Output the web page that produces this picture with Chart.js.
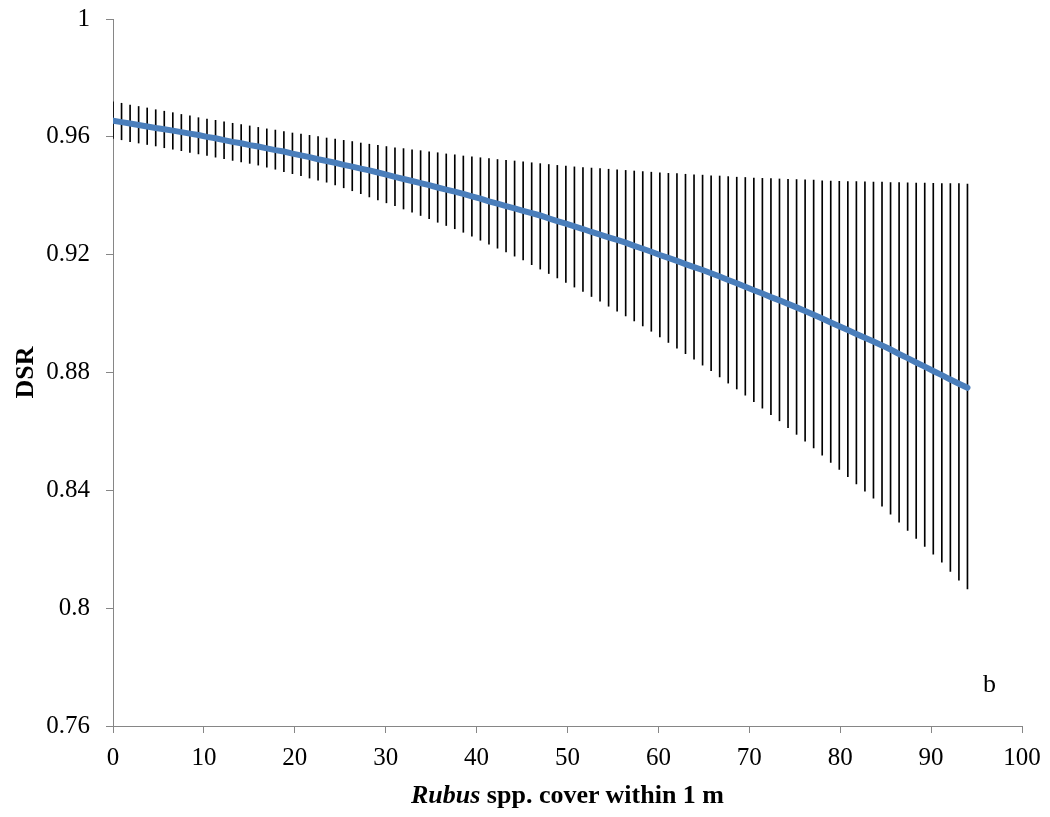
<html>
  <head>
    <style>
      body { margin: 0; background: #fff; }
      #wrap { position: relative; width: 1050px; height: 817px; }
      .lbl { position: absolute; font-family: "Liberation Serif", "Times New Roman", serif; font-size: 26px; line-height: 30px; color: #000; white-space: nowrap; }
    </style>
  </head>
  <body>
    <script src="https://cdn.jsdelivr.net/npm/chart.js@4/dist/chart.umd.min.js"></script>
    <div id="wrap">
      <canvas id="myChart" width="1050" height="817"></canvas>
      <div class="lbl" id="xTitle" style="left:0; width:1135px; text-align:center; top:780px; font-weight:bold;"><i>Rubus</i> spp. cover within 1 m</div>
      <div class="lbl" id="panel" style="left:983px; top:669px;">b</div>
    </div>
    <script>
      // Rubus cover (%) at each estimate
      var cover = [0, 0.94, 1.88, 2.82, 3.76, 4.7, 5.64, 6.58, 7.52, 8.46, 9.4, 10.34, 11.28, 12.22, 13.16, 14.1, 15.04, 15.98, 16.92, 17.86,
        18.8, 19.74, 20.68, 21.62, 22.56, 23.5, 24.44, 25.38, 26.32, 27.26, 28.2, 29.14, 30.08, 31.02, 31.96, 32.9, 33.84, 34.78, 35.72, 36.66,
        37.6, 38.54, 39.48, 40.42, 41.36, 42.3, 43.24, 44.18, 45.12, 46.06, 47, 47.94, 48.88, 49.82, 50.76, 51.7, 52.64, 53.58, 54.52, 55.46,
        56.4, 57.34, 58.28, 59.22, 60.16, 61.1, 62.04, 62.98, 63.92, 64.86, 65.8, 66.74, 67.68, 68.62, 69.56, 70.5, 71.44, 72.38, 73.32, 74.26,
        75.2, 76.14, 77.08, 78.02, 78.96, 79.9, 80.84, 81.78, 82.72, 83.66, 84.6, 85.54, 86.48, 87.42, 88.36, 89.3, 90.24, 91.18, 92.12, 93.06, 94];

      // daily survival rate estimate
      var dsr = [0.9655, 0.9650, 0.9645, 0.9640, 0.9635, 0.9630, 0.9626, 0.9621, 0.9616, 0.9611, 0.9606, 0.9600, 0.9595, 0.9589, 0.9583, 0.9578, 0.9572, 0.9567, 0.9561, 0.9555,
        0.9550, 0.9543, 0.9537, 0.9531, 0.9524, 0.9518, 0.9512, 0.9505, 0.9499, 0.9492, 0.9486, 0.9479, 0.9472, 0.9464, 0.9457, 0.9450, 0.9443, 0.9436, 0.9428, 0.9421,
        0.9414, 0.9406, 0.9398, 0.9390, 0.9381, 0.9373, 0.9365, 0.9357, 0.9349, 0.9341, 0.9333, 0.9323, 0.9314, 0.9305, 0.9296, 0.9287, 0.9277, 0.9268, 0.9259, 0.9250,
        0.9241, 0.9230, 0.9220, 0.9210, 0.9199, 0.9189, 0.9179, 0.9168, 0.9158, 0.9148, 0.9137, 0.9126, 0.9114, 0.9103, 0.9091, 0.9079, 0.9068, 0.9056, 0.9045, 0.9033,
        0.9021, 0.9009, 0.8996, 0.8983, 0.8970, 0.8957, 0.8944, 0.8931, 0.8918, 0.8905, 0.8892, 0.8878, 0.8863, 0.8849, 0.8834, 0.8820, 0.8805, 0.8791, 0.8776, 0.8762, 0.8748];

      // upper and lower confidence limits
      var upper = [0.9719, 0.9714, 0.9708, 0.9703, 0.9698, 0.9692, 0.9687, 0.9682, 0.9676, 0.9671, 0.9665, 0.9660, 0.9656, 0.9651, 0.9646, 0.9642, 0.9637, 0.9632, 0.9627, 0.9623,
        0.9618, 0.9613, 0.9609, 0.9605, 0.9601, 0.9596, 0.9592, 0.9588, 0.9584, 0.9579, 0.9575, 0.9571, 0.9567, 0.9563, 0.9560, 0.9556, 0.9553, 0.9549, 0.9546, 0.9542,
        0.9539, 0.9535, 0.9532, 0.9529, 0.9526, 0.9523, 0.9520, 0.9518, 0.9515, 0.9512, 0.9509, 0.9506, 0.9503, 0.9501, 0.9498, 0.9496, 0.9494, 0.9492, 0.9490, 0.9488,
        0.9486, 0.9484, 0.9482, 0.9480, 0.9478, 0.9476, 0.9475, 0.9473, 0.9471, 0.9470, 0.9468, 0.9467, 0.9465, 0.9463, 0.9462, 0.9460, 0.9459, 0.9458, 0.9457, 0.9456,
        0.9455, 0.9454, 0.9453, 0.9451, 0.9450, 0.9449, 0.9448, 0.9448, 0.9447, 0.9446, 0.9446, 0.9445, 0.9445, 0.9444, 0.9443, 0.9443, 0.9442, 0.9441, 0.9441, 0.9441, 0.9440];

      var lower = [0.9595, 0.9590, 0.9584, 0.9579, 0.9574, 0.9569, 0.9563, 0.9558, 0.9553, 0.9547, 0.9542, 0.9537, 0.9531, 0.9526, 0.9520, 0.9515, 0.9510, 0.9504, 0.9497, 0.9490,
        0.9482, 0.9475, 0.9468, 0.9460, 0.9453, 0.9446, 0.9437, 0.9427, 0.9417, 0.9407, 0.9396, 0.9386, 0.9376, 0.9366, 0.9355, 0.9344, 0.9333, 0.9322, 0.9310, 0.9299,
        0.9288, 0.9276, 0.9263, 0.9249, 0.9236, 0.9222, 0.9209, 0.9195, 0.9182, 0.9166, 0.9151, 0.9136, 0.9121, 0.9106, 0.9090, 0.9075, 0.9058, 0.9042, 0.9025, 0.9008,
        0.8992, 0.8975, 0.8958, 0.8940, 0.8921, 0.8902, 0.8883, 0.8864, 0.8845, 0.8825, 0.8806, 0.8785, 0.8764, 0.8744, 0.8723, 0.8701, 0.8679, 0.8657, 0.8636, 0.8613,
        0.8590, 0.8567, 0.8544, 0.8519, 0.8495, 0.8471, 0.8446, 0.8422, 0.8397, 0.8373, 0.8346, 0.8319, 0.8292, 0.8264, 0.8237, 0.8210, 0.8183, 0.8156, 0.8125, 0.8095, 0.8065];

      var serif = "'Liberation Serif', 'Times New Roman', serif";
      var axisGrey = "#868686";

      var linePts = [];
      var barPts = [];
      for (var i = 0; i < cover.length; i++) {
        linePts.push({ x: cover[i], y: dsr[i] });
        barPts.push({ x: cover[i], y: [lower[i], upper[i]] });
      }

      var ctx = document.getElementById("myChart").getContext("2d");
      var myChart = new Chart(ctx, {
        type: "line",
        data: {
          datasets: [
            {
              type: "line",
              label: "DSR",
              data: linePts,
              borderColor: "#4A7EBB",
              borderWidth: 6,
              borderCapStyle: "round",
              pointRadius: 0,
              tension: 0,
              fill: false,
              order: 1
            },
            {
              type: "bar",
              label: "95% CI",
              data: barPts,
              backgroundColor: "#000",
              borderWidth: 0,
              barThickness: 1,
              order: 2
            }
          ]
        },
        options: {
          responsive: false,
          animation: false,
          devicePixelRatio: 1,
          layout: { padding: { top: 19, right: 28, left: 0, bottom: 0 } },
          plugins: { legend: { display: false }, tooltip: { enabled: false } },
          scales: {
            x: {
              type: "linear",
              min: 0,
              max: 100,
              offset: false,
              afterFit: function (s) { s.height = 91; s.paddingLeft = 0; s.paddingRight = 0; },
              ticks: { stepSize: 10, color: "#000", padding: 10, font: { family: serif, size: 25 } },
              grid: { offset: false, drawOnChartArea: false, drawTicks: true, tickLength: 7, color: axisGrey },
              border: { color: axisGrey, width: 1 }
            },
            y: {
              min: 0.76,
              max: 1,
              afterFit: function (s) { s.width = 113; s.paddingTop = 0; s.paddingBottom = 0; },
              ticks: {
                stepSize: 0.04,
                color: "#000",
                padding: 16,
                font: { family: serif, size: 25 },
                callback: function (v) { return String(parseFloat(v.toFixed(2))); }
              },
              grid: { drawOnChartArea: false, drawTicks: true, tickLength: 7, color: axisGrey },
              border: { color: axisGrey, width: 1 },
              title: {
                display: true,
                text: "DSR",
                color: "#000",
                padding: { top: 11, bottom: 0 },
                font: { family: serif, size: 26, weight: "bold" }
              }
            }
          }
        }
      });
    </script>
  </body>
</html>
